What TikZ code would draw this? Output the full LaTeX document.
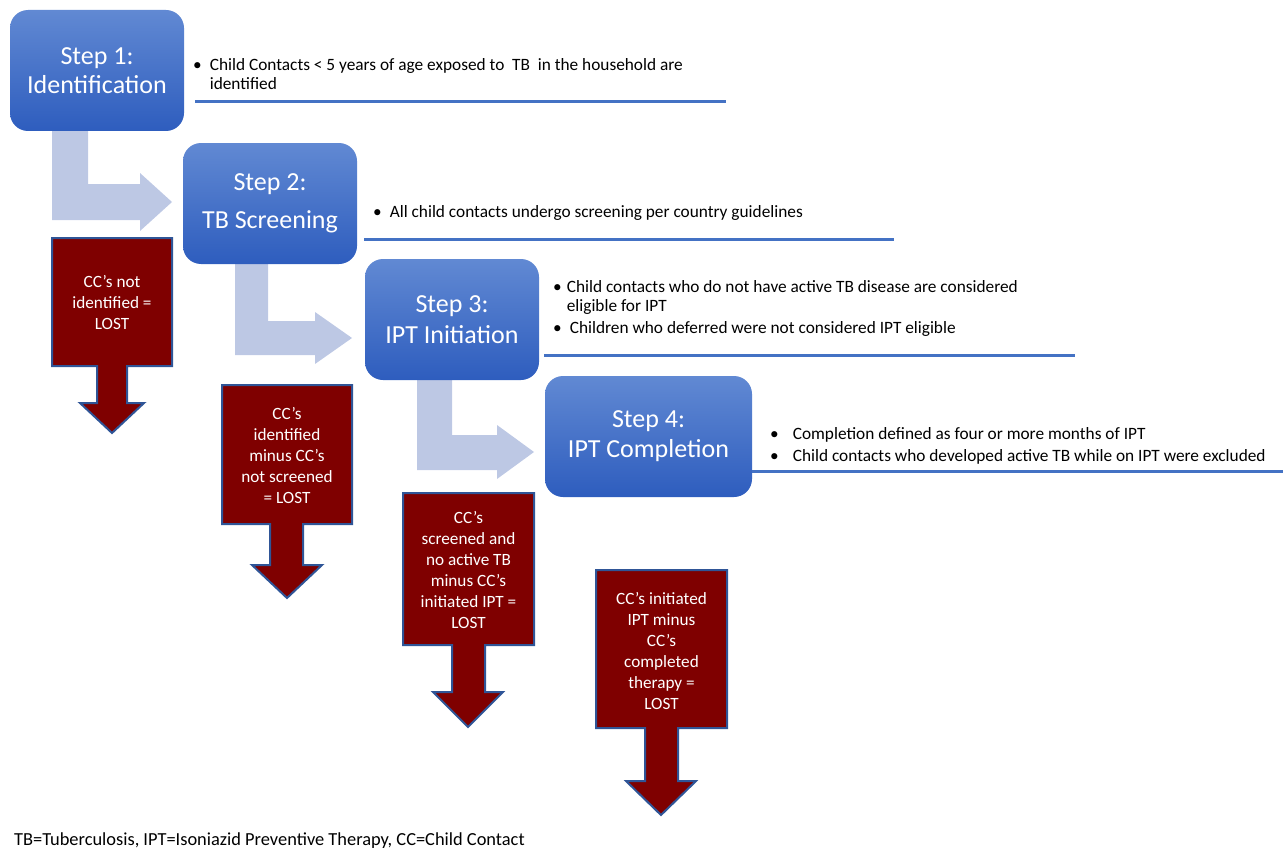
\documentclass[tikz,border=0pt]{standalone}
\usepackage{fontspec}
\setmainfont{Carlito}
\definecolor{stepTop}{HTML}{6189D3}
\definecolor{stepBot}{HTML}{2E5DBE}
\definecolor{flowArrow}{HTML}{BDC8E4}
\definecolor{lostFill}{HTML}{7F0000}
\definecolor{lostEdge}{HTML}{2F5597}
\definecolor{ruleBlue}{HTML}{4472C4}
\begin{document}
\begin{tikzpicture}[x=1pt,y=-1pt,
  stepbox/.style={rounded corners=18pt, top color=stepTop, bottom color=stepBot,
    draw=none, minimum height=121pt, inner sep=0pt, text=white, align=center},
  flow/.style={fill=flowArrow, draw=none},
  lost/.style={fill=lostFill, draw=lostEdge, line width=2pt, line join=miter},
  losttext/.style={text=white, align=center, font=\fontsize{17.2}{21}\selectfont},
  bul/.style={anchor=base west, inner sep=0pt, font=\fontsize{17.3}{19}\selectfont},
  rule/.style={draw=ruleBlue, line width=3pt},
  foot/.style={anchor=base west, inner sep=0pt, font=\fontsize{18.4}{20}\selectfont}]
\useasboundingbox (0,0) rectangle (1287,848);

% light bent arrows (behind boxes)
\path[flow] (52,125) -- (88,125) -- (88,184) -- (140,184) -- (140,173) -- (172,202)
  -- (140,231) -- (140,220) -- (52,220) -- cycle;
\path[flow] (235,258) -- (268,258) -- (268,321) -- (315,321) -- (315,312) -- (352,338)
  -- (315,364) -- (315,355) -- (235,355) -- cycle;
\path[flow] (417,374) -- (452,374) -- (452,435) -- (497,435) -- (497,425) -- (534,452)
  -- (497,479) -- (497,470) -- (417,470) -- cycle;

% step boxes
\node[stepbox, minimum width=174pt, font=\fontsize{26}{29}\selectfont] (s1) at (97,70.5) {Step 1:\\Identification};
\node[stepbox, minimum width=174pt, font=\fontsize{26}{38}\selectfont] (s2) at (270,203.5) {Step 2:\\TB Screening};
\node[stepbox, minimum width=174pt, font=\fontsize{26}{31}\selectfont] (s3) at (452,319.5) {Step 3:\\IPT Initiation};
\node[stepbox, minimum width=207pt, font=\fontsize{26}{30}\selectfont] (s4) at (648.5,436.5) {Step 4:\\IPT Completion};

% bullet texts
\node[bul] (t1) at (193,71) {\begin{tabular}[t]{@{}l@{\hspace{8pt}}l@{}}\textbullet & Child Contacts < 5 years of age exposed to~ TB~ in the household are\\ & identified\end{tabular}};
\node[bul] (t2) at (373,217) {\begin{tabular}[t]{@{}l@{\hspace{8pt}}l@{}}\textbullet & All child contacts undergo screening per country guidelines\end{tabular}};
\node[bul] (t3) at (553,292) {\begin{tabular}[t]{@{}l@{\hspace{5pt}}l@{}}\textbullet & Child contacts who do not have active TB disease are considered\\ & eligible for IPT\\[3pt]
\textbullet & \hspace{3pt}Children who deferred were not considered IPT eligible\end{tabular}};
\node[bul] (t4) at (770,439) {\begin{tabular}[t]{@{}l@{\hspace{14pt}}l@{}}\textbullet & Completion defined as four or more months of IPT\\[3pt]
\textbullet & Child contacts who developed active TB while on IPT were excluded\end{tabular}};

% rules
\coordinate (r1a) at (195,102); \coordinate (r1b) at (726,102);
\coordinate (r2a) at (364,239); \coordinate (r2b) at (894,239);
\coordinate (r3a) at (544,355); \coordinate (r3b) at (1075,355);
\coordinate (r4a) at (752,471); \coordinate (r4b) at (1283,471);
\draw[rule] (r1a) -- (r1b);
\draw[rule] (r2a) -- (r2b);
\draw[rule] (r3a) -- (r3b);
\draw[rule] (r4a) -- (r4b);

% lost arrows
\path[lost] (52,238) -- (172,238) -- (172,366) -- (127,366) -- (127,403) -- (144,403)
  -- (112,433) -- (80,403) -- (97,403) -- (97,366) -- (52,366) -- cycle;
\node[losttext] (l1) at (112,302) {CC’s not\\identified =\\LOST};
\path[lost] (222,385) -- (352,385) -- (352,524) -- (303,524) -- (303,565) -- (322,565)
  -- (287,598) -- (252,565) -- (270,565) -- (270,524) -- (222,524) -- cycle;
\node[losttext] (l2) at (287,455.5) {CC’s\\identified\\minus CC’s\\not screened\\= LOST};
\path[lost] (403,493) -- (534,493) -- (534,645) -- (485,645) -- (485,692) -- (503,692)
  -- (468,727) -- (433,692) -- (452,692) -- (452,645) -- (403,645) -- cycle;
\node[losttext] (l3) at (468.5,569.5) {CC’s\\screened and\\no active TB\\minus CC’s\\initiated IPT =\\LOST};
\path[lost] (596,570) -- (727,570) -- (727,728) -- (678,728) -- (678,781) -- (696,781)
  -- (661,815) -- (626,781) -- (645,781) -- (645,728) -- (596,728) -- cycle;
\node[losttext] (l4) at (661.5,650.5) {CC’s initiated\\IPT minus\\CC’s\\completed\\therapy =\\LOST};

% footer
\node[foot] (ft) at (14,845) {TB=Tuberculosis, IPT=Isoniazid Preventive Therapy, CC=Child Contact};
\end{tikzpicture}
\end{document}
